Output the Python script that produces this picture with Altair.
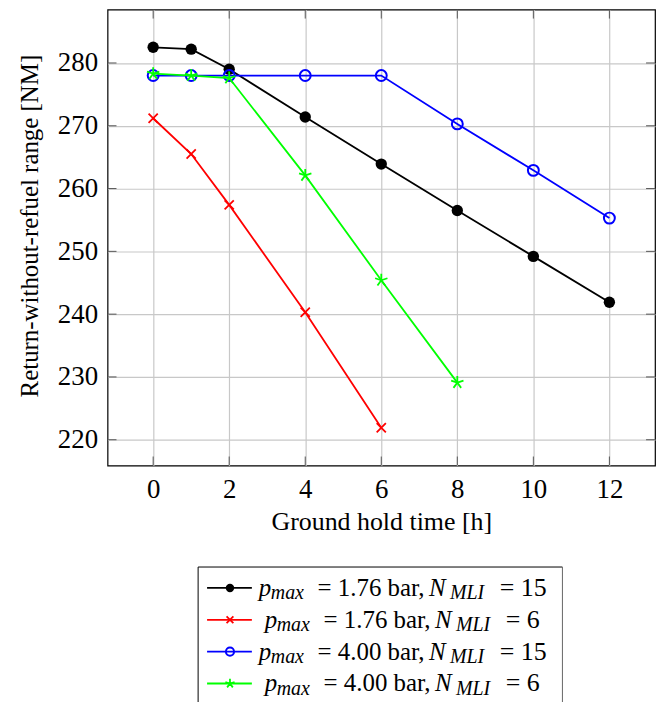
import altair as alt
import pandas as pd

# ---------------- data ----------------
hold_a = [0, 1, 2, 4, 6, 8, 10, 12]
range_a = [282.5, 282.2, 279.0, 271.4, 263.9, 256.5, 249.2, 241.9]   # p=1.76 bar, N=15
hold_b = [0, 1, 2, 4, 6]
range_b = [271.2, 265.5, 257.4, 240.3, 221.9]                       # p=1.76 bar, N=6
hold_c = [0, 1, 2, 4, 6, 8, 10, 12]
range_c = [278.0, 278.0, 278.0, 278.0, 278.0, 270.3, 262.9, 255.3]   # p=4.00 bar, N=15
hold_d = [0, 1, 2, 4, 6, 8]
range_d = [278.3, 278.0, 277.6, 262.1, 245.4, 229.1]                # p=4.00 bar, N=6

p_max_values = ["1.76", "1.76", "4.00", "4.00"]
n_mli_values = ["15", "6", "15", "6"]
series_colors = ["#000000", "#ff0000", "#0000ff", "#00ff00"]

x_ticks = [0, 2, 4, 6, 8, 10, 12]
y_ticks = [220, 230, 240, 250, 260, 270, 280]
x_domain = [-1.2, 13.2]
y_domain = [215.9, 288.5]

x_title = "Ground hold time [h]"
y_title = "Return-without-refuel range [NM]"

# ---------------- styling ----------------
W, H = 550, 458
FONT = "Liberation Serif"
FS = 25
LABEL_FS = 27
SUB_FS = 20
TICK_LEN = 9
TICK_COLOR = "#555555"

CROSS = "M-1,-1L1,1M-1,1L1,-1"
STAR = ("M0,0L0,-1M0,0L-0.951,-0.309M0,0L-0.588,0.809"
        "M0,0L0.588,0.809M0,0L0.951,-0.309")

markers = [
    dict(shape="circle", filled=True, size=130, strokeWidth=1),
    dict(shape=CROSS, filled=False, size=85, strokeWidth=1.8),
    dict(shape="circle", filled=False, size=120, strokeWidth=2),
    dict(shape=STAR, filled=False, size=170, strokeWidth=1.8),
]

series = [(hold_a, range_a), (hold_b, range_b), (hold_c, range_c), (hold_d, range_d)]

axis_font = dict(labelFont=FONT, labelFontSize=LABEL_FS, labelColor="black",
                 titleFont=FONT, titleFontSize=FS, titleColor="black",
                 titleFontWeight="normal", gridColor="#c8c8c8", gridWidth=1.2)

X = alt.X("x:Q",
          scale=alt.Scale(domain=x_domain, nice=False, zero=False),
          axis=alt.Axis(values=x_ticks, title=x_title, grid=True, ticks=False,
                        domain=False, labelPadding=11, labelFlush=False,
                        labelOverlap=False, titleBaseline="alphabetic",
                        titleY=64, titleFontSize=26, **{k: v for k, v in axis_font.items() if k != "titleFontSize"}))
Y = alt.Y("y:Q",
          scale=alt.Scale(domain=y_domain, nice=False, zero=False),
          axis=alt.Axis(values=y_ticks, title=y_title, grid=True, ticks=False,
                        domain=False, labelPadding=10, labelFlush=False,
                        labelOverlap=False, titleAngle=270,
                        titleBaseline="alphabetic", titleX=-70, titleY=217,
                        titleAlign="center", **axis_font))

layers = []

# inside tick marks on all four sides
xt = pd.DataFrame({"x": x_ticks})
yt = pd.DataFrame({"y": y_ticks})
layers.append(alt.Chart(xt).mark_rule(color=TICK_COLOR, strokeWidth=1).encode(
    x=X, y=alt.value(H), y2=alt.value(H - TICK_LEN)))
layers.append(alt.Chart(xt).mark_rule(color=TICK_COLOR, strokeWidth=1).encode(
    x=X, y=alt.value(0), y2=alt.value(TICK_LEN)))
layers.append(alt.Chart(yt).mark_rule(color=TICK_COLOR, strokeWidth=1).encode(
    y=Y, x=alt.value(0), x2=alt.value(TICK_LEN)))
layers.append(alt.Chart(yt).mark_rule(color=TICK_COLOR, strokeWidth=1).encode(
    y=Y, x=alt.value(W), x2=alt.value(W - TICK_LEN)))

# series
for (hx, ry), col, mk in zip(series, series_colors, markers):
    df = pd.DataFrame({"x": hx, "y": ry})
    layers.append(alt.Chart(df).mark_line(color=col, strokeWidth=1.8).encode(x=X, y=Y))
    layers.append(alt.Chart(df).mark_point(color=col, opacity=1, **mk).encode(x=X, y=Y))

# ---------------- legend (drawn below the plot) ----------------
one = pd.DataFrame({"a": [0]})
BOX_L, BOX_R, BOX_T, BOX_B = 91, 457, 560, 710
layers.append(alt.Chart(one).mark_rule(color="black", strokeWidth=1).encode(
    x=alt.value(BOX_L), x2=alt.value(BOX_R), y=alt.value(BOX_T)))
layers.append(alt.Chart(one).mark_rule(color="black", strokeWidth=1).encode(
    x=alt.value(BOX_L), y=alt.value(BOX_T), y2=alt.value(BOX_B)))
layers.append(alt.Chart(one).mark_rule(color="#666666", strokeWidth=1).encode(
    x=alt.value(BOX_R), y=alt.value(BOX_T), y2=alt.value(BOX_B)))

row_y0, row_dy = 581, 32
for i, (col, mk, pm, nm) in enumerate(zip(series_colors, markers, p_max_values, n_mli_values)):
    ry = row_y0 + i * row_dy
    layers.append(alt.Chart(one).mark_rule(color=col, strokeWidth=1.8).encode(
        x=alt.value(100), x2=alt.value(145), y=alt.value(ry)))
    lm = dict(mk)
    lm["size"] = mk["size"] * 0.55
    layers.append(alt.Chart(one).mark_point(color=col, opacity=1, **lm).encode(
        x=alt.value(123), y=alt.value(ry)))
    sh = 0 if len(nm) == 2 else 6
    base = ry + 8
    pieces = [
        ("p", 152, base, FS, "italic"),
        ("max", 164, base + 3.5, SUB_FS, "italic"),
        ("= " + pm + " bar,", 211, base, FS, "normal"),
        ("N", 323, base, FS, "italic"),
        ("MLI", 344, base + 3.5, SUB_FS, "italic"),
        ("= " + nm, 394, base, 26, "normal"),
    ]
    for txt, px, py, fs, style in pieces:
        layers.append(alt.Chart(one).mark_text(
            text=txt, align="left", baseline="alphabetic", font=FONT,
            fontSize=fs, fontStyle=style, color="black").encode(
            x=alt.value(px + sh), y=alt.value(py)))

chart = alt.layer(*layers).properties(
    width=W, height=H,
    autosize=alt.AutoSizeParams(type="none"),
    padding={"left": 100, "top": 0, "right": 2, "bottom": 236},
).configure(
    font=FONT
).configure_view(
    stroke="black", strokeWidth=1.2
).configure_axis(**axis_font).configure_text(font=FONT)

chart.save("out.html", embed_options={"renderer": "svg", "actions": False})
